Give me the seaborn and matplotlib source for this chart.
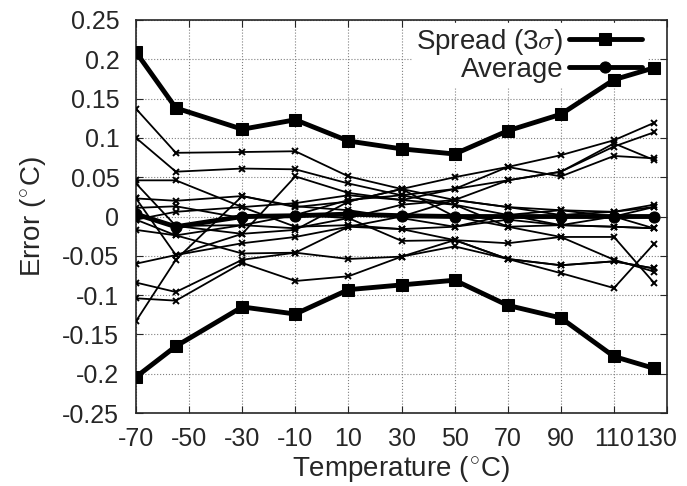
import numpy as np
import pandas as pd
import matplotlib
matplotlib.use('Agg')
import matplotlib.pyplot as plt
import matplotlib.transforms as mtransforms
import seaborn as sns

# temperatures where each device was measured
temps = [-70, -55, -30, -10, 10, 30, 50, 70, 90, 110, 125]

# error of individual devices
dev01 = [0.137, 0.081, 0.082, 0.083, 0.051, 0.035, 0.021, 0.012, 0.008, 0.006, 0.012]
dev02 = [0.100, 0.057, 0.061, 0.060, 0.042, 0.027, 0.015, 0.002, -0.011, -0.013, -0.015]
dev03 = [0.046, 0.046, 0.012, -0.013, -0.011, -0.016, -0.030, -0.054, -0.062, -0.057, -0.066]
dev04 = [0.042, -0.012, -0.022, 0.051, 0.030, 0.021, 0.015, -0.013, -0.026, -0.055, -0.070]
dev05 = [0.023, 0.020, 0.026, 0.012, 0.019, 0.035, 0.050, 0.063, 0.078, 0.097, 0.119]
dev06 = [0.011, 0.013, -0.002, 0.002, 0.021, 0.027, 0.035, 0.046, 0.057, 0.089, 0.107]
dev07 = [-0.004, 0.006, 0.012, 0.017, 0.027, 0.021, 0.035, 0.063, 0.051, 0.077, 0.074]
dev08 = [-0.017, -0.024, -0.047, -0.046, -0.013, 0.000, 0.021, 0.046, 0.057, 0.093, 0.072]
dev09 = [-0.060, -0.049, -0.034, -0.026, -0.013, -0.016, -0.013, 0.002, 0.008, 0.000, -0.015]
dev10 = [-0.084, -0.096, -0.055, -0.046, -0.054, -0.051, -0.038, -0.054, -0.072, -0.091, -0.035]
dev11 = [-0.104, -0.107, -0.059, -0.082, -0.076, -0.051, -0.030, -0.034, -0.026, -0.026, -0.084]
dev12 = [-0.133, -0.055, 0.026, 0.013, 0.008, -0.002, -0.013, -0.004, -0.011, -0.013, -0.015]
dev13 = [0.002, -0.012, -0.011, -0.015, -0.002, 0.015, 0.021, 0.012, 0.002, 0.006, 0.015]
dev14 = [0.023, -0.049, -0.022, -0.017, 0.019, 0.035, 0.000, -0.013, -0.011, 0.000, 0.012]
dev15 = [-0.004, -0.024, -0.011, 0.002, -0.002, -0.031, -0.030, -0.054, -0.062, -0.057, -0.066]
devices = [dev01, dev02, dev03, dev04, dev05, dev06, dev07, dev08,
           dev09, dev10, dev11, dev12, dev13, dev14, dev15]

# summary curves
spread_hi = [0.209, 0.138, 0.111, 0.123, 0.096, 0.086, 0.0795, 0.109, 0.130, 0.174, 0.189]
spread_lo = [-0.204, -0.165, -0.115, -0.124, -0.093, -0.087, -0.081, -0.113, -0.129, -0.178, -0.193]
average = [0.003, -0.013, 0.000, 0.001, 0.003, 0.001, 0.000, 0.000, 0.000, 0.000, 0.000]

xticks = [-70, -50, -30, -10, 10, 30, 50, 70, 90, 110, 130]
yticks = [-0.25, -0.2, -0.15, -0.1, -0.05, 0, 0.05, 0.1, 0.15, 0.2, 0.25]
ytick_labels = ['-0.25', '-0.2', '-0.15', '-0.1', '-0.05', '0', '0.05', '0.1', '0.15', '0.2', '0.25']

sns.set_style('ticks')
plt.rcParams['font.family'] = ['Liberation Sans', 'DejaVu Sans']
plt.rcParams['mathtext.fontset'] = 'cm'
plt.rcParams['axes.unicode_minus'] = False

fig, ax = plt.subplots(figsize=(6.87, 4.86), dpi=100)
fig.subplots_adjust(left=0.198, right=0.971, top=0.959, bottom=0.150)

for d in devices:
    sns.lineplot(x=temps, y=d, ax=ax, color='black', lw=1.3, marker='x',
                 markersize=5, markeredgewidth=1.4, markeredgecolor='black',
                 legend=False, zorder=3)

sns.lineplot(x=temps, y=spread_hi, ax=ax, color='black', lw=3.5, marker='s',
             markersize=9, markeredgecolor='black', label='Spread (3$\\sigma$)', zorder=4)
sns.lineplot(x=temps, y=spread_lo, ax=ax, color='black', lw=3.5, marker='s',
             markersize=9, markeredgecolor='black', zorder=4)
sns.lineplot(x=temps, y=average, ax=ax, color='black', lw=3.5, marker='o',
             markersize=8, markeredgecolor='black', label='Average', zorder=4)

ax.set_xlim(-70, 130)
ax.set_ylim(-0.25, 0.25)
ax.set_xticks(xticks)
ax.set_yticks(yticks)
ax.set_yticklabels(ytick_labels)
ax.tick_params(direction='in', top=True, right=True, labelsize=18, length=5)
ax.tick_params(axis='y', pad=12)
ax.tick_params(axis='x', pad=10)
ax.grid(True, linestyle=':', color='gray', lw=0.8)
for s in ax.spines.values():
    s.set_linewidth(1.2)

# last x label sits a bit left, inside the figure
last = ax.get_xticklabels()[-1]
last.set_transform(last.get_transform() + mtransforms.ScaledTranslation(-11 / 100, 0, fig.dpi_scale_trans))

ax.set_xlabel('Temperature ($^{\\circ}$C)', fontsize=20, labelpad=2)
ax.set_ylabel('Error ($^{\\circ}$C)', fontsize=20, labelpad=10)

leg = ax.legend(loc='upper right', markerfirst=False, frameon=True,
                fontsize=20, handlelength=2.6, borderaxespad=0.1,
                labelspacing=0.0, handletextpad=0.2, borderpad=0.15,
                bbox_to_anchor=(0.965, 1.0))
leg.get_frame().set_facecolor('white')
leg.get_frame().set_edgecolor('white')
leg.get_frame().set_alpha(1)
leg.set_zorder(1)
for t in leg.get_texts():
    t.set_ha('right')

fig.savefig('out.png', dpi=100)
